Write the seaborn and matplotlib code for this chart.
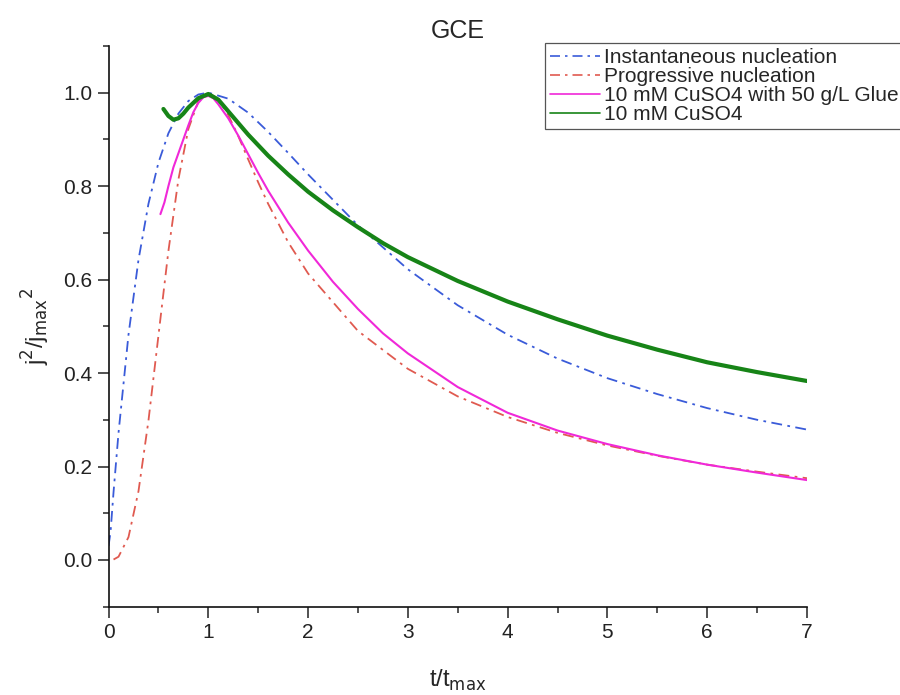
import matplotlib
matplotlib.use("Agg")
import matplotlib.pyplot as plt
import seaborn as sns
from matplotlib.ticker import MultipleLocator

# Values (t/tmax vs j^2/jmax^2)
inst_x = [0.0, 0.02, 0.05, 0.1, 0.2, 0.3, 0.4, 0.5, 0.6, 0.7, 0.8, 0.9, 1.0,
          1.2, 1.4, 1.6, 1.8, 2.0, 2.5, 3.0, 3.5, 4.0, 4.5, 5.0, 5.5, 6.0, 6.5, 7.0]
inst_y = [0.03, 0.06, 0.145, 0.272, 0.482, 0.642, 0.762, 0.850, 0.913, 0.955, 0.982, 0.996, 1.000,
          0.987, 0.957, 0.916, 0.871, 0.825, 0.716, 0.622, 0.545, 0.482, 0.431, 0.389, 0.355, 0.325, 0.300, 0.279]

prog_x = [0.05, 0.1, 0.2, 0.3, 0.4, 0.5, 0.6, 0.7, 0.8, 0.9, 1.0, 1.1, 1.2, 1.3,
          1.4, 1.5, 1.6, 1.8, 2.0, 2.5, 3.0, 3.5, 4.0, 4.5, 5.0, 5.5, 6.0, 6.5, 7.0]
prog_y = [0.001, 0.007, 0.049, 0.147, 0.298, 0.480, 0.661, 0.814, 0.922, 0.982, 1.000, 0.986, 0.952, 0.907,
          0.857, 0.808, 0.762, 0.680, 0.613, 0.490, 0.409, 0.350, 0.306, 0.272, 0.245, 0.223, 0.204, 0.189, 0.175]

glue_x = [0.52, 0.56, 0.6, 0.65, 0.7, 0.75, 0.8, 0.85, 0.9, 0.95, 1.0, 1.05, 1.1, 1.2, 1.3, 1.4, 1.5,
          1.6, 1.8, 2.0, 2.25, 2.5, 2.75, 3.0, 3.5, 4.0, 4.5, 5.0, 5.5, 6.0, 6.5, 7.0]
glue_y = [0.740, 0.765, 0.800, 0.840, 0.870, 0.900, 0.930, 0.958, 0.978, 0.990, 0.993, 0.988, 0.975, 0.945,
          0.908, 0.868, 0.828, 0.790, 0.722, 0.662, 0.595, 0.537, 0.485, 0.442, 0.370, 0.315, 0.277, 0.248,
          0.224, 0.204, 0.187, 0.171]

cu_x = [0.55, 0.6, 0.65, 0.7, 0.75, 0.8, 0.9, 1.0, 1.1, 1.2, 1.3, 1.4, 1.6, 1.8, 2.0, 2.25, 2.5,
        2.75, 3.0, 3.5, 4.0, 4.5, 5.0, 5.5, 6.0, 6.5, 7.0]
cu_y = [0.965, 0.950, 0.942, 0.945, 0.955, 0.968, 0.988, 0.997, 0.985, 0.960, 0.935, 0.910, 0.865, 0.825,
        0.788, 0.748, 0.712, 0.678, 0.648, 0.597, 0.553, 0.515, 0.480, 0.450, 0.423, 0.402, 0.383]

labels = ["Instantaneous nucleation", "Progressive nucleation",
          "10 mM CuSO4 with 50 g/L Glue", "10 mM CuSO4"]

sns.set_style("ticks")
plt.rcParams["font.family"] = ["Liberation Sans", "DejaVu Sans"]

fig = plt.figure(figsize=(9, 6.95), dpi=100)
ax = fig.add_axes([0.1206, 0.127, 0.776, 0.807])

# Origin style dash-dot
dashdot = (6, 3, 1.5, 3)
sns.lineplot(x=inst_x, y=inst_y, ax=ax, color="#3a5bd9", lw=1.3, label=labels[0])
sns.lineplot(x=prog_x, y=prog_y, ax=ax, color="#e05a50", lw=1.3, label=labels[1])
sns.lineplot(x=glue_x, y=glue_y, ax=ax, color="#f028d8", lw=1.5, label=labels[2])
sns.lineplot(x=cu_x, y=cu_y, ax=ax, color="#178417", lw=3.0, label=labels[3])
ax.lines[0].set_dashes(dashdot)
ax.lines[1].set_dashes(dashdot)

ax.set_xlim(0, 7)
ax.set_ylim(-0.1, 1.1)
ax.xaxis.set_major_locator(MultipleLocator(1))
ax.xaxis.set_minor_locator(MultipleLocator(0.5))
ax.yaxis.set_minor_locator(MultipleLocator(0.1))
ax.set_yticks([0.0, 0.2, 0.4, 0.6, 0.8, 1.0])
ax.tick_params(which="major", direction="out", length=8, width=1.1, labelsize=15, colors="#222222")
ax.tick_params(which="minor", direction="out", length=4, width=1.1)
for s in ["top", "right"]:
    ax.spines[s].set_visible(False)
for s in ["left", "bottom"]:
    ax.spines[s].set_linewidth(1.2)
    ax.spines[s].set_color("#111111")

ax.set_title("GCE", fontsize=18, pad=6)
ax.set_xlabel(r"t/t$_{\mathrm{max}}$", fontsize=17, labelpad=19)
ax.set_ylabel(r"j$^2$/j$_{\mathrm{max}}$$^2$", fontsize=17, labelpad=8)

leg = ax.legend(loc="upper left", bbox_to_anchor=(0.6056, 0.9386), bbox_transform=fig.transFigure,
                fontsize=15, frameon=True, fancybox=False, framealpha=1, edgecolor="#555555",
                handlelength=2.4, handletextpad=0.2, labelspacing=0.0, borderpad=0.25,
                borderaxespad=0)
leg.get_frame().set_linewidth(0.9)
for h in leg.legend_handles:
    h.set_linewidth(1.2)

fig.savefig("out.png", dpi=100)
